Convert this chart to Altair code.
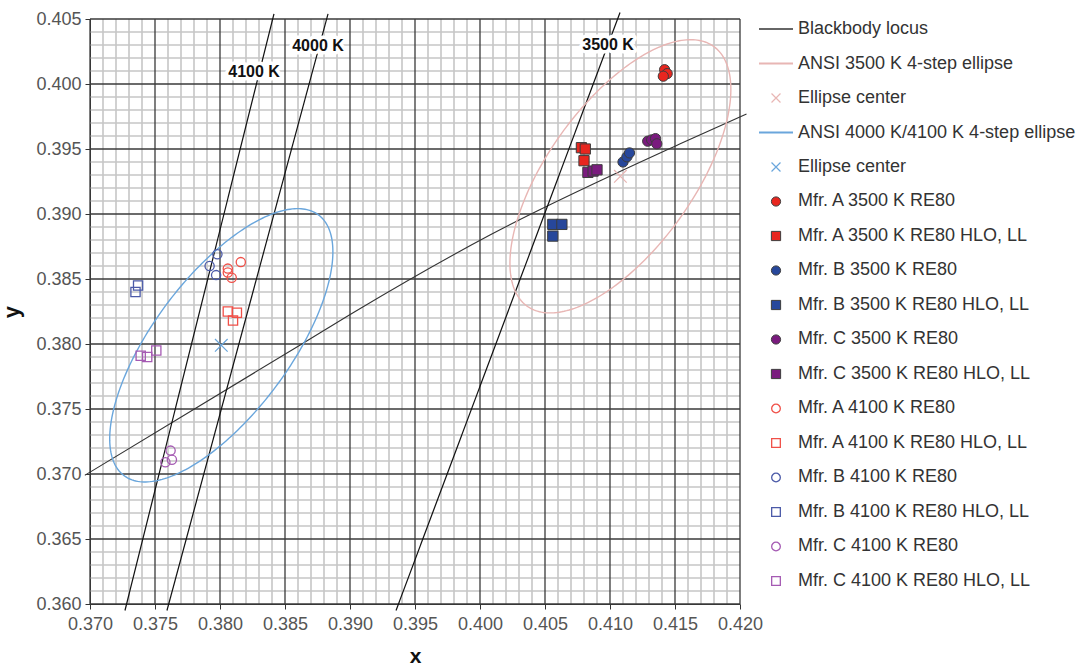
import altair as alt
import numpy as np
import pandas as pd

FONT = "Liberation Sans"

# ---- axis ranges and grid positions ----
X_DOMAIN = [0.370, 0.420]
Y_DOMAIN = [0.360, 0.405]
x_major = [0.370, 0.375, 0.380, 0.385, 0.390, 0.395, 0.400, 0.405, 0.410, 0.415, 0.420]
y_major = [0.360, 0.365, 0.370, 0.375, 0.380, 0.385, 0.390, 0.395, 0.400, 0.405]
x_minor = [round(0.370 + 0.001 * i, 3) for i in range(51) if i % 5]
y_minor = [round(0.360 + 0.001 * i, 3) for i in range(46) if i % 5]

# ---- blackbody locus ----
locus_x = [0.3696, 0.3863, 0.3904, 0.4008, 0.4154, 0.4205]
locus_y = [0.3699, 0.3800, 0.3825, 0.3884, 0.3954, 0.3977]

# ---- isotemperature lines ----
iso_cct = ["4100 K", "4000 K", "3500 K"]
iso_top_x = [0.38415, 0.38831, 0.41077]
iso_bottom_x = [0.37269, 0.37592, 0.39354]
iso_top_y = [0.4054, 0.4054, 0.4055]
iso_bottom_y = [0.3595, 0.3595, 0.3595]
iso_label_x = [0.38262, 0.38754, 0.40985]
iso_label_y = [0.40092, 0.40292, 0.40300]

# ---- ANSI 4-step ellipses: centre, semi-axes, rotation (deg) ----
ell_3500 = dict(cx=0.4108, cy=0.3929, a=0.0123, b=0.0056, theta=54.3)
ell_4000 = dict(cx=0.3801, cy=0.3799, a=0.01251, b=0.00526, theta=53.3)

# ---- measured chromaticities ----
a3500_re80_x = [0.4142, 0.4144, 0.4141]
a3500_re80_y = [0.4011, 0.4008, 0.4006]
a3500_hlo_x = [0.4078, 0.4081, 0.4080]
a3500_hlo_y = [0.3951, 0.3950, 0.3941]
b3500_re80_x = [0.4110, 0.4113, 0.4115]
b3500_re80_y = [0.3940, 0.3944, 0.3947]
b3500_hlo_x = [0.4056, 0.4063, 0.4056]
b3500_hlo_y = [0.3892, 0.3892, 0.3883]
c3500_re80_x = [0.4129, 0.4132, 0.4135, 0.4136]
c3500_re80_y = [0.3956, 0.3957, 0.3958, 0.3954]
c3500_hlo_x = [0.4083, 0.4087, 0.4090]
c3500_hlo_y = [0.3932, 0.3933, 0.3934]

a4100_re80_x = [0.3806, 0.3809, 0.3816, 0.3806]
a4100_re80_y = [0.3858, 0.3851, 0.3863, 0.3855]
a4100_hlo_x = [0.3806, 0.3813, 0.3810]
a4100_hlo_y = [0.3825, 0.3824, 0.3818]
b4100_re80_x = [0.3798, 0.3792, 0.3797]
b4100_re80_y = [0.3869, 0.3860, 0.3853]
b4100_hlo_x = [0.3737, 0.3735]
b4100_hlo_y = [0.3845, 0.3840]
c4100_re80_x = [0.3762, 0.3763, 0.3758]
c4100_re80_y = [0.3718, 0.3711, 0.3709]
c4100_hlo_x = [0.3739, 0.3744, 0.3751]
c4100_hlo_y = [0.3791, 0.3790, 0.3795]

RED, BLUE, PURPLE = "#e8261f", "#27479b", "#7a1b7e"
RED_O, BLUE_O, PURPLE_O = "#f05048", "#4b5aa8", "#a55ab3"
OUTLINE = "#3d3d3d"
PINK_ELL, BLUE_ELL = "#e8b6b4", "#6aa6dc"
CROSS = "M-1,-1L1,1M-1,1L1,-1"

series = [
    ("Mfr. A 3500 K RE80", a3500_re80_x, a3500_re80_y, "circle", True, RED),
    ("Mfr. A 3500 K RE80 HLO, LL", a3500_hlo_x, a3500_hlo_y, "square", True, RED),
    ("Mfr. B 3500 K RE80", b3500_re80_x, b3500_re80_y, "circle", True, BLUE),
    ("Mfr. B 3500 K RE80 HLO, LL", b3500_hlo_x, b3500_hlo_y, "square", True, BLUE),
    ("Mfr. C 3500 K RE80", c3500_re80_x, c3500_re80_y, "circle", True, PURPLE),
    ("Mfr. C 3500 K RE80 HLO, LL", c3500_hlo_x, c3500_hlo_y, "square", True, PURPLE),
    ("Mfr. A 4100 K RE80", a4100_re80_x, a4100_re80_y, "circle", False, RED_O),
    ("Mfr. A 4100 K RE80 HLO, LL", a4100_hlo_x, a4100_hlo_y, "square", False, RED_O),
    ("Mfr. B 4100 K RE80", b4100_re80_x, b4100_re80_y, "circle", False, BLUE_O),
    ("Mfr. B 4100 K RE80 HLO, LL", b4100_hlo_x, b4100_hlo_y, "square", False, BLUE_O),
    ("Mfr. C 4100 K RE80", c4100_re80_x, c4100_re80_y, "circle", False, PURPLE_O),
    ("Mfr. C 4100 K RE80 HLO, LL", c4100_hlo_x, c4100_hlo_y, "square", False, PURPLE_O),
]

W, H = 650, 585
xs = alt.Scale(domain=X_DOMAIN, nice=False, zero=False)
ys = alt.Scale(domain=Y_DOMAIN, nice=False, zero=False)

# one shared axis definition per channel, used by every layer so they merge
AX = alt.Axis(values=x_major, format=".3f", title="x", grid=False,
              labelFont=FONT, labelFontSize=18, labelColor="#555",
              labelPadding=6, tickSize=5, tickColor="#333", domainColor="#333",
              titleFont=FONT, titleFontSize=21, titleFontWeight="bold",
              titleColor="#111", titlePadding=12, labelFlush=False)
AY = alt.Axis(values=y_major, format=".3f", title="y", grid=False,
              labelFont=FONT, labelFontSize=18, labelColor="#555",
              labelPadding=4, tickSize=5, tickColor="#333", domainColor="#333",
              titleFont=FONT, titleFontSize=22, titleFontWeight="bold",
              titleColor="#111", titlePadding=12, labelFlush=False)


def X(field):
    return alt.X(field, scale=xs, axis=AX, title="x")


def Y(field):
    return alt.Y(field, scale=ys, axis=AY, title="y")


def ellipse_frame(cx, cy, a, b, theta, n=241):
    t = np.linspace(0, 2 * np.pi, n)
    th = np.radians(theta)
    ex = cx + a * np.cos(t) * np.cos(th) - b * np.sin(t) * np.sin(th)
    ey = cy + a * np.cos(t) * np.sin(th) + b * np.sin(t) * np.cos(th)
    return pd.DataFrame({"x": ex, "y": ey, "o": np.arange(n)})


# grid
minor_v = alt.Chart(pd.DataFrame({"v": x_minor})).mark_rule(
    color="#c6c6c6", strokeWidth=1.6).encode(x=X("v:Q"))
minor_h = alt.Chart(pd.DataFrame({"v": y_minor})).mark_rule(
    color="#c6c6c6", strokeWidth=1.6).encode(y=Y("v:Q"))
major_v = alt.Chart(pd.DataFrame({"v": x_major})).mark_rule(
    color="#3a3a3a", strokeWidth=1.3).encode(x=X("v:Q"))
major_h = alt.Chart(pd.DataFrame({"v": y_major})).mark_rule(
    color="#3a3a3a", strokeWidth=1.3).encode(y=Y("v:Q"))

locus = alt.Chart(pd.DataFrame({"x": locus_x, "y": locus_y})).mark_line(
    color="#333", strokeWidth=1.1, interpolate="monotone"
).encode(x=X("x:Q"), y=Y("y:Q"))

iso_df = pd.DataFrame({
    "cct": iso_cct, "x1": iso_top_x, "x2": iso_bottom_x,
    "y1": iso_top_y, "y2": iso_bottom_y,
    "lx": iso_label_x, "ly": iso_label_y,
})
iso_lines = alt.Chart(iso_df).mark_rule(color="#111", strokeWidth=1.2).encode(
    x=X("x1:Q"), x2="x2:Q", y=Y("y1:Q"), y2="y2:Q",
)
iso_halo = alt.Chart(iso_df).mark_text(
    font=FONT, fontSize=16, fontWeight="bold", color="white",
    stroke="white", strokeWidth=7, strokeJoin="round"
).encode(x=X("lx:Q"), y=Y("ly:Q"), text="cct:N")
iso_text = alt.Chart(iso_df).mark_text(
    font=FONT, fontSize=16, fontWeight="bold", color="#111"
).encode(x=X("lx:Q"), y=Y("ly:Q"), text="cct:N")

ell_layers = []
for params, col in ((ell_3500, PINK_ELL), (ell_4000, BLUE_ELL)):
    ell_layers.append(
        alt.Chart(ellipse_frame(**params)).mark_line(color=col, strokeWidth=1.4).encode(
            x=X("x:Q"), y=Y("y:Q"), order="o:Q"
        )
    )
    ell_layers.append(
        alt.Chart(pd.DataFrame({"x": [params["cx"]], "y": [params["cy"]]})).mark_point(
            shape=CROSS, size=160, filled=False, color=col, strokeWidth=1.2, opacity=1
        ).encode(x=X("x:Q"), y=Y("y:Q"))
    )

point_layers = []
for name, px, py, shp, filled, col in series:
    df = pd.DataFrame({"x": px, "y": py, "s": name})
    if filled:
        mk = alt.Chart(df).mark_point(shape=shp, filled=True, fill=col, stroke=OUTLINE,
                                      strokeWidth=1, size=105, opacity=1)
    else:
        mk = alt.Chart(df).mark_point(shape=shp, filled=False, color=col,
                                      strokeWidth=1.3, size=85, opacity=1)
    point_layers.append(mk.encode(x=X("x:Q"), y=Y("y:Q")))

main = alt.layer(
    minor_v, minor_h, major_v, major_h, locus, iso_lines,
    *ell_layers, *point_layers, iso_halo, iso_text
).properties(width=W, height=H)

# ---- legend panel ----
leg_labels = [
    "Blackbody locus", "ANSI 3500 K 4-step ellipse", "Ellipse center",
    "ANSI 4000 K/4100 K 4-step ellipse", "Ellipse center",
] + [s[0] for s in series]
leg_kind = ["line", "line", "sym", "line", "sym"] + ["sym"] * len(series)
leg_stroke = ["#666", PINK_ELL, PINK_ELL, BLUE_ELL, BLUE_ELL] + [
    OUTLINE if s[4] else s[5] for s in series
]
leg_fill = ["none", "none", "transparent", "none", "transparent"] + [
    s[5] if s[4] else "transparent" for s in series
]
leg_shape = ["circle", "circle", CROSS, "circle", CROSS] + [s[3] for s in series]
leg_size = [0, 0, 80, 0, 80] + [85 if s[4] else 75 for s in series]
leg_sw = [2, 2, 1.2, 2, 1.2] + [1 if s[4] else 1.3 for s in series]

leg_df = pd.DataFrame({
    "i": list(range(len(leg_labels))), "label": leg_labels, "kind": leg_kind,
    "stroke": leg_stroke, "fill": leg_fill, "shape": leg_shape,
    "size": leg_size, "sw": leg_sw,
})
ly = alt.Y("i:Q", scale=alt.Scale(domain=[-0.29, 16.667], reverse=True, nice=False, zero=False), axis=None)

leg_lines = alt.Chart(leg_df).transform_filter(alt.datum.kind == "line").mark_rule().encode(
    x=alt.value(9), x2=alt.value(43), y=ly,
    color=alt.Color("stroke:N", scale=None),
    strokeWidth=alt.StrokeWidth("sw:Q", scale=None),
)
leg_syms = alt.Chart(leg_df).transform_filter(alt.datum.kind == "sym").mark_point(
    filled=True, opacity=1
).encode(
    x=alt.value(26), y=ly,
    shape=alt.Shape("shape:N", scale=None),
    fill=alt.Fill("fill:N", scale=None),
    stroke=alt.Stroke("stroke:N", scale=None),
    size=alt.Size("size:Q", scale=None),
    strokeWidth=alt.StrokeWidth("sw:Q", scale=None),
)
leg_text = alt.Chart(leg_df).mark_text(
    align="left", baseline="middle", font=FONT, fontSize=18, color="#333"
).encode(x=alt.value(48), y=ly, text="label:N")

legend = alt.layer(leg_lines, leg_syms, leg_text).properties(width=330, height=H)

chart = alt.hconcat(main, legend, spacing=10, bounds="flush").properties(
    padding={"left": 0, "top": 10, "right": 0, "bottom": 0},
    background="white",
).configure_view(stroke=None)

chart.save("out.html", embed_options={"renderer": "svg", "actions": False})
